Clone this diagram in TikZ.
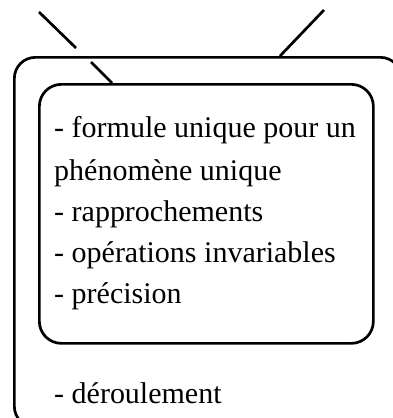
\documentclass[tikz,border=0pt]{standalone}
\usepackage{fontspec}
\setmainfont{Liberation Serif}
\begin{document}
\begin{tikzpicture}[x=1pt,y=-1pt,
  box/.style={draw=black, line width=2.7pt, rounded corners=21pt, rectangle, inner sep=0pt, anchor=north west},
  stroke/.style={draw=black, line width=2.7pt},
  txt/.style={inner sep=0pt, anchor=base west, font=\fontsize{30}{36}\selectfont}]
\useasboundingbox (0,0) rectangle (393,418);
\clip (0,0) rectangle (393,418);
\fill[white] (0,0) rectangle (393,418);
\node[box, minimum width=387pt, minimum height=370pt] (outer) at (13,56) {};
\node[box, rounded corners=22pt, minimum width=334pt, minimum height=259pt] (inner) at (38,83) {};
\coordinate (a1) at (39,12);
\coordinate (a2) at (76,48);
\coordinate (b1) at (91,62);
\coordinate (b2) at (112,83);
\coordinate (c1) at (324,10);
\coordinate (c2) at (280,56);
\draw[stroke] (a1) -- (a2);
\draw[stroke] (b1) -- (b2);
\draw[stroke] (c1) -- (c2);
\node[txt] (t1) at (54,137) {- formule unique pour un};
\node[txt] (t2) at (54,180) {phénomène unique};
\node[txt] (t3) at (54,221) {- rapprochements};
\node[txt] (t4) at (54,262) {- opérations invariables};
\node[txt] (t5) at (54,303) {- précision};
\node[txt] (t6) at (54,403) {- déroulement};
\end{tikzpicture}
\end{document}
